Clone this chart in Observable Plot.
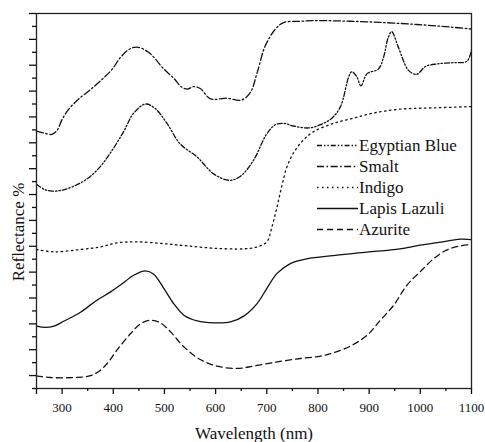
<!DOCTYPE html>
<html>
<head>
<meta charset="utf-8">
<script src="https://cdn.jsdelivr.net/npm/d3@7"></script>
<script src="https://cdn.jsdelivr.net/npm/@observablehq/plot@0.6"></script>
<style>
  html, body { margin: 0; padding: 0; background: #fff; }
  #wrap { position: relative; width: 485px; height: 442px; font-family: "Liberation Serif", "Times New Roman", Times, "DejaVu Serif", serif; color: #111; }
  #legend { position: absolute; left: 316px; top: 135px; font-size: 17px; }
  #legend .row { display: flex; align-items: center; height: 21px; line-height: 21px; }
  #legend svg { display: block; margin-right: 1px; }
  #ylabel { position: absolute; left: 18px; top: 232px; font-size: 17px; line-height: 17px; white-space: nowrap;
            transform: translate(-50%, -50%) rotate(-90deg); }
</style>
</head>
<body>
<div id="wrap"></div>
<script>
// ---- data (wavelength in nm, reflectance in arbitrary offset units) ----
const seriesNames = ["Egyptian Blue", "Smalt", "Indigo", "Lapis Lazuli", "Azurite"];

const egyptianBlueWl = [250,265,280,300,320,345,371,394,420,440,463,482,505,531,564,596,627,648,674,700,717,733,752,782,805,827,844,860,866,876,884,896,918,928,937,944,957,977,993,1010,1032,1065,1091,1100];
const egyptianBlueR  = [15.8,15.4,15.26,15.34,15.6,16.1,17.0,18.2,19.85,21.3,22.0,21.65,20.5,18.9,17.9,16.6,16.1,16.4,17.65,19.7,20.4,20.5,20.3,20.15,20.4,20.9,21.8,24.1,24.5,24.1,23.4,24.35,24.7,25.6,27.1,27.6,26.4,24.6,24.3,24.9,25.1,25.2,25.3,26.2];

const smaltWl = [250,265,280,290,300,313,333,355,378,398,414,430,446,469,499,518,534,545,557,570,590,622,650,668,681,697,717,733,766,798,863,928,993,1059,1100];
const smaltR  = [19.9,19.75,19.65,19.95,20.8,21.6,22.4,23.1,23.9,24.7,25.6,26.2,26.4,26.0,24.7,24.0,23.3,23.15,23.35,23.2,22.4,22.45,22.3,22.9,24.4,26.5,27.8,28.3,28.4,28.45,28.4,28.3,28.15,27.95,27.8];

const indigoWl = [250,284,336,375,407,446,499,544,596,655,681,700,710,720,729,739,752,771,791,830,869,908,960,1025,1100];
const indigoR  = [10.75,10.57,10.75,10.95,11.26,11.34,11.2,11.03,10.85,10.8,10.95,11.34,12.5,14.05,15.6,17.1,18.2,19.2,19.85,20.5,20.9,21.3,21.6,21.7,21.8];

const lapisWl = [250,267,284,303,336,368,394,414,440,463,479,499,518,538,564,596,629,655,681,700,720,746,778,830,896,960,999,1044,1078,1100];
const lapisR  = [4.82,4.72,4.82,5.2,5.9,6.83,7.45,8.0,8.76,9.1,8.84,7.73,6.57,5.67,5.23,5.08,5.15,5.6,6.57,7.73,8.9,9.66,10.03,10.28,10.54,10.8,11.08,11.34,11.55,11.52];

const azuriteWl = [250,277,323,352,371,388,407,434,453,473,492,512,538,570,603,642,674,720,766,805,830,863,896,922,948,974,999,1025,1051,1078,1100];
const azuriteR  = [0.98,0.85,0.85,0.95,1.29,1.93,2.96,4.25,5.0,5.28,5.08,4.38,3.22,2.24,1.73,1.55,1.73,2.06,2.32,2.5,2.76,3.27,4.12,5.28,6.44,8.0,9.0,10.0,10.7,11.03,11.13];

const xMajorTicks = [250,300,400,500,600,700,800,900,1000,1100];
const xMinorTicks = [350,450,550,650,750,850,950,1050];
const yMajorTicks = [1,3,5,7,9,11,13,15,17,19,21,23,25,27,29];
const yMinorTicks = [0,2,4,6,8,10,12,14,16,18,20,22,24,26,28];

const xLabel = "Wavelength (nm)";
const yLabel = "Reflectance %";

// ---- styles per series ----
const dashes = {
  "Egyptian Blue": "5,2,1.4,2,1.4,2",
  "Smalt": "7,2.5,1.6,2.5",
  "Indigo": "1.5,3.5",
  "Lapis Lazuli": null,
  "Azurite": "6,4"
};
const seriesData = {
  "Egyptian Blue": [egyptianBlueWl, egyptianBlueR],
  "Smalt": [smaltWl, smaltR],
  "Indigo": [indigoWl, indigoR],
  "Lapis Lazuli": [lapisWl, lapisR],
  "Azurite": [azuriteWl, azuriteR]
};
const toRows = ([w, r]) => w.map((d, i) => ({wl: d, r: r[i]}));

const serifStack = "'Liberation Serif', 'Times New Roman', Times, 'DejaVu Serif', serif";

const lineMarks = seriesNames.map(name => Plot.line(toRows(seriesData[name]), {
  x: "wl", y: "r", curve: "catmull-rom",
  stroke: "#111", strokeWidth: 1.3,
  strokeDasharray: dashes[name] || undefined
}));

const chart = Plot.plot({
  width: 485,
  height: 442,
  marginLeft: 36,
  marginRight: 14,
  marginTop: 13,
  marginBottom: 54,
  style: { fontFamily: serifStack, color: "#111", background: "#fff" },
  x: { domain: [250, 1100], axis: null },
  y: { domain: [0, 29], axis: null },
  marks: [
    ...lineMarks,
    Plot.frame({ stroke: "#222", strokeWidth: 1.3 }),
    Plot.axisX(xMajorTicks, { anchor: "bottom", tickSize: 6, tickPadding: 8, fontSize: 13, strokeWidth: 1.3,
      tickFormat: d => d === 250 ? "" : String(d), label: null }),
    Plot.axisX(xMinorTicks, { anchor: "bottom", tickSize: 3, strokeWidth: 1.3, tickFormat: () => "", label: null }),
    Plot.axisY(yMajorTicks, { anchor: "left", tickSize: 7, strokeWidth: 1.3, tickFormat: () => "", label: null }),
    Plot.axisY(yMinorTicks, { anchor: "left", tickSize: 4, strokeWidth: 1.3, tickFormat: () => "", label: null }),
    Plot.text([xLabel], { text: d => d, frameAnchor: "bottom", dy: 45, lineAnchor: "middle", fontSize: 17, fill: "#111" })
  ]
});

const wrap = document.getElementById("wrap");
wrap.appendChild(chart);

// ---- y-axis title ----
const yl = document.createElement("div");
yl.id = "ylabel";
yl.textContent = yLabel;
wrap.appendChild(yl);

// ---- legend ----
const legend = document.createElement("div");
legend.id = "legend";
for (const name of seriesNames) {
  const row = document.createElement("div");
  row.className = "row";
  const dash = dashes[name] ? ` stroke-dasharray="${dashes[name]}"` : "";
  row.innerHTML = `<svg width="42" height="21"><line x1="1" x2="42" y1="10.5" y2="10.5" stroke="#111" stroke-width="1.3"${dash}></line></svg><span>${name}</span>`;
  legend.appendChild(row);
}
wrap.appendChild(legend);
</script>
</body>
</html>
